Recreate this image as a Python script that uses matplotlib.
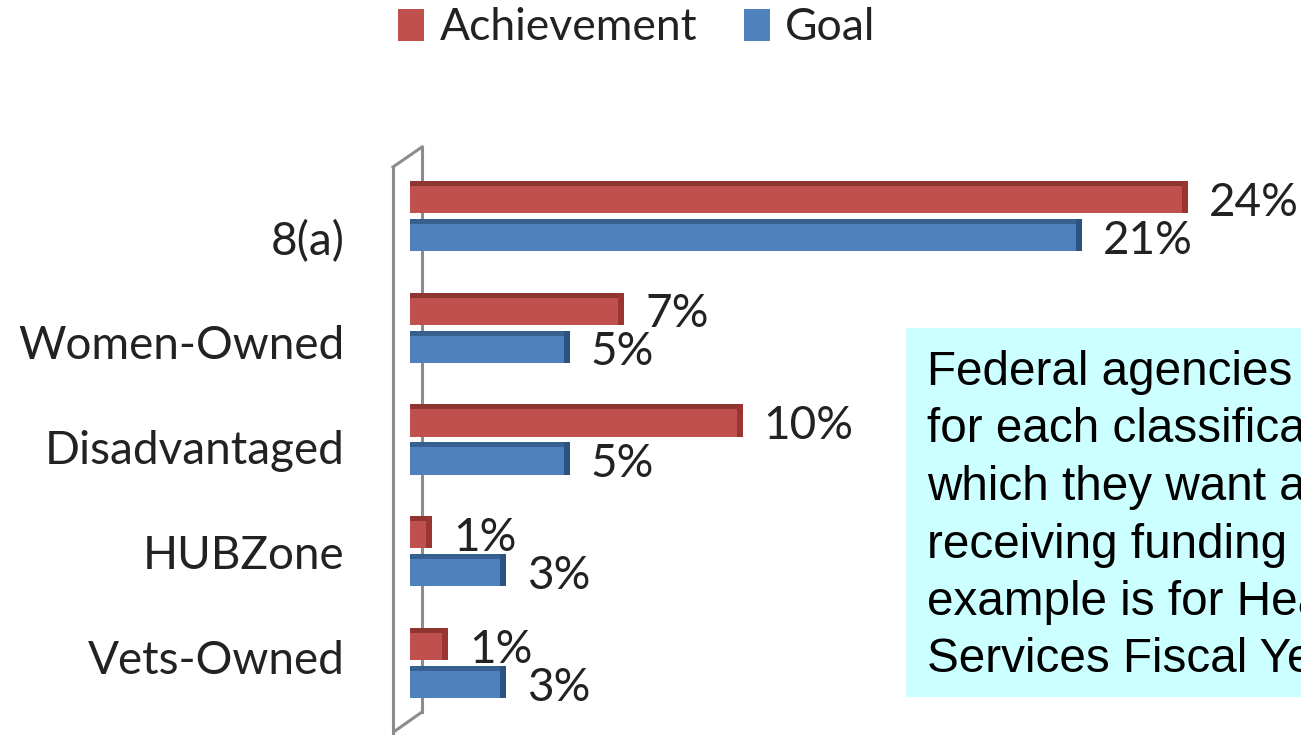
import matplotlib
matplotlib.use("Agg")
import matplotlib.pyplot as plt
from matplotlib.patches import Patch, Rectangle
from matplotlib.lines import Line2D
import numpy as np

categories = ["8(a)", "Women-Owned", "Disadvantaged", "HUBZone", "Vets-Owned"]
achievement = [24.3, 6.7, 10.4, 0.7, 1.2]
goal = [21, 5, 5, 3, 3]
series_names = ["Achievement", "Goal"]
note_lines = [
    "Federal agencies set goals",
    "for each classification of business",
    "which they want a percentage",
    "receiving funding to be. This",
    "example is for Health and Human",
    "Services Fiscal Year 2011.",
]

W, H = 1301, 735
fig = plt.figure(figsize=(W / 100, H / 100), dpi=100)
fig.patch.set_facecolor("white")

def fx(px):
    return px / W

def fy(py):
    return 1 - py / H

# axes: x=0 at px 410, right edge at figure edge; y from px 140 to 720
ax = fig.add_axes([fx(410), fy(720), fx(W - 410), (720 - 140) / H])
ax.set_facecolor("none")
ax.set_xlim(0, (W - 410) / 32.0)
ax.set_ylim(4.51, -0.68)
for s in ax.spines.values():
    s.set_visible(False)
ax.set_xticks([])

red, red_dark, red_side = "#C0504D", "#8E3431", "#9A3532"
blue, blue_dark, blue_side = "#4F81BD", "#36608F", "#2C5280"

y = np.arange(len(categories))
bh = 0.29
off = 0.17
side_w = 6 / 32.0
top_h = 0.045

def draw(vals, yc, face, dark, side):
    ax.barh(yc, vals, height=bh, color=face, zorder=3)
    # darker top strip
    ax.barh(yc - bh / 2 + top_h / 2, vals, height=top_h, color=dark, zorder=4)
    # darker right side
    v = np.asarray(vals, dtype=float)
    ax.barh(yc, np.full_like(v, side_w), left=v - side_w, height=bh,
            color=side, zorder=5)

draw(achievement, y - off, red, red_dark, red_side)
draw(goal, y + off, blue, blue_dark, blue_side)

lab_font = dict(family=["Lato", "DejaVu Sans"], fontsize=33, color="#222222")
for i in range(len(categories)):
    ax.annotate(f"{achievement[i]:.0f}%", xy=(achievement[i], y[i] - off),
                xytext=(15, -4), textcoords="offset points",
                ha="left", va="center", zorder=6, **lab_font)
    ax.annotate(f"{goal[i]:.0f}%", xy=(goal[i], y[i] + off),
                xytext=(15, -4), textcoords="offset points",
                ha="left", va="center", zorder=6, **lab_font)

# category labels
label_pos = 0.19 + 0.94 * y
ax.set_yticks(label_pos)
ax.set_yticklabels(categories)
ax.tick_params(axis="y", length=0, pad=47)
for t in ax.get_yticklabels():
    t.set_fontfamily(["Lato", "DejaVu Sans"])
    t.set_fontsize(33)
    t.set_color("#222222")

# 3-D wall outline
wall_col = "#8C8C8C"
wall = [((393, 167), (393, 733)), ((422, 147), (422, 712)),
        ((393, 167), (422, 147)), ((422, 712), (395, 731))]
for (x0, y0), (x1, y1) in wall:
    ax.add_line(Line2D([fx(x0), fx(x1)], [fy(y0), fy(y1)], transform=fig.transFigure,
                       color=wall_col, lw=2.2, zorder=1, clip_on=False))

# legend
handles = [Patch(facecolor=red, edgecolor="none"), Patch(facecolor=blue, edgecolor="none")]
leg = fig.legend(handles, series_names, loc="center", bbox_to_anchor=(fx(637), fy(28)),
                 ncol=2, frameon=False, handlelength=0.58, handleheight=0.72,
                 handletextpad=0.35, columnspacing=1.05,
                 prop=dict(family=["Lato", "DejaVu Sans"], size=32))
for t in leg.get_texts():
    t.set_color("#222222")

# note box
fig.patches.append(Rectangle((fx(906), fy(697)), fx(W - 906 + 50), (697 - 328) / H,
                             transform=fig.transFigure, facecolor="#CCFFFF",
                             edgecolor="none", zorder=0))
for k, line in enumerate(note_lines):
    fig.text(fx(927), fy(385 + 57.5 * k), line, ha="left", va="baseline",
             family=["Liberation Sans", "DejaVu Sans"], fontsize=34.3, color="black")

fig.savefig("out.png", dpi=100)
